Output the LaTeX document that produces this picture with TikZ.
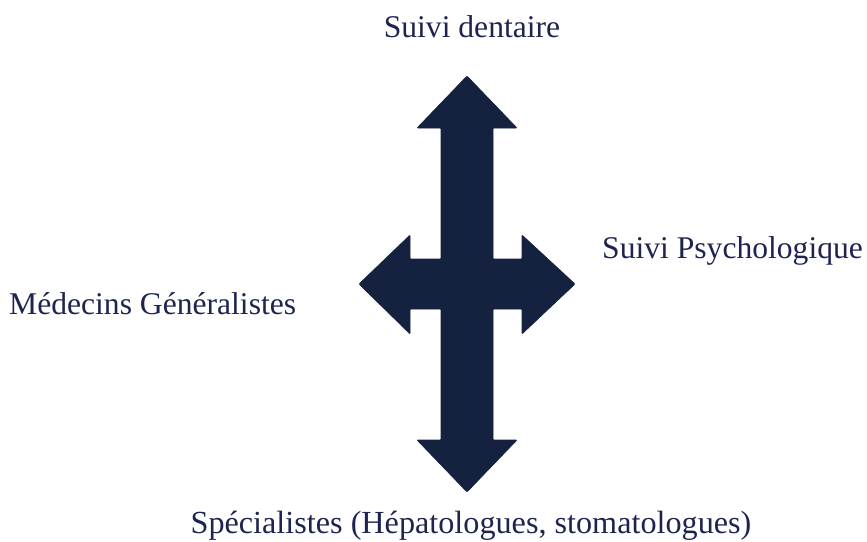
\documentclass[tikz,border=0pt]{standalone}
\usepackage{fontspec}
\setmainfont{Liberation Serif}
\usetikzlibrary{positioning}

\definecolor{navy}{HTML}{14213F}
\definecolor{inktext}{HTML}{1E2450}

\begin{document}
\begin{tikzpicture}[x=1pt,y=-1pt,main node/.style={inner sep=0pt,text=inktext,font=\fontsize{31.6}{36}\selectfont},cross/.style={fill=navy,draw=navy,line width=0.6pt,rounded corners=0.8pt}]

  \useasboundingbox (0,0) rectangle (867,541);

  \coordinate (hub) at (467,284);

  \node[main node,anchor=base] (top) at (472,37) {Suivi dentaire};
  \node[main node,anchor=base west] (right) at (602,258) {Suivi Psychologique};
  \node[main node,anchor=base west] (left) at (9,314) {Médecins Généralistes};
  \node[main node,anchor=base,font=\fontsize{32.2}{36}\selectfont] (bottom) at (471,533) {Spécialistes (Hépatologues, stomatologues)};

  % four-way arrow
  \fill[cross] (hub) ++(0,-208) -- ++(50,52) -- ++(-24,0) -- ++(0,131) -- ++(29,0) -- ++(0,-24)
    -- ++(53,49) -- ++(-53,50) -- ++(0,-25) -- ++(-29,0) -- ++(0,131) -- ++(24,0)
    -- ++(-50,52) -- ++(-50,-52) -- ++(24,0) -- ++(0,-131) -- ++(-31,0) -- ++(0,25)
    -- ++(-51,-50) -- ++(51,-49) -- ++(0,24) -- ++(31,0) -- ++(0,-131) -- ++(-24,0) -- cycle;
\end{tikzpicture}
\end{document}
